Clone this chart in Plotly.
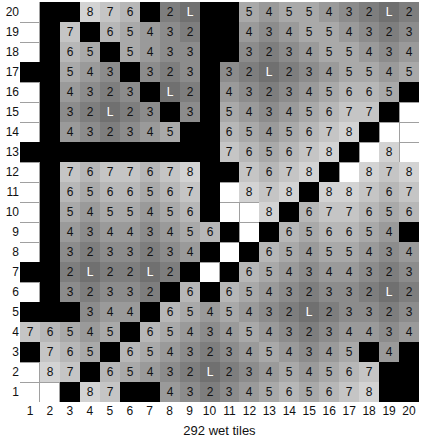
import numpy as np
import plotly.graph_objects as go

# Column / row labels
cols = list(range(1, 21))
rows = list(range(1, 21))

# Cell codes, listed from the top row (20) down to row 1.
# B = wall (black), W = dry (white), L = lake, digit = distance value
grid_top_down = [
    "W B B 8 7 6 B 2 L B B 5 4 5 5 4 3 2 L 2",
    "W B 7 B 6 5 4 3 2 B B 4 3 4 5 5 4 3 2 3",
    "W B 6 5 B 5 4 3 3 B B 3 2 3 4 5 5 4 3 4",
    "B B 5 4 3 B 3 2 3 B 3 2 L 2 3 4 5 5 4 5",
    "W B 4 3 2 3 B L 2 B 4 3 2 3 4 5 6 6 5 B",
    "W B 3 2 L 2 3 B 3 B 5 4 3 4 5 6 7 7 B W",
    "W B 4 3 2 3 4 5 B B 6 5 4 5 6 7 8 B W W",
    "B B B B B B B B B B 7 6 5 6 7 8 B W 8 W",
    "W B 7 6 7 7 6 7 8 B B 7 6 7 8 B W 8 7 8",
    "W B 6 5 6 6 5 6 7 B W 8 7 8 B 8 8 7 6 7",
    "W B 5 4 5 5 4 5 6 B W W 8 B 6 7 7 6 5 6",
    "W B 4 3 4 4 3 4 5 6 B W B 6 5 6 6 5 4 B",
    "W B 3 2 3 3 2 3 4 B W B 6 5 4 5 5 4 3 4",
    "B B 2 L 2 2 L 2 B W B 6 5 4 3 4 4 3 2 3",
    "W B 3 2 3 3 2 B 6 B 6 5 4 3 2 3 3 2 L 2",
    "B B B 3 4 4 B 6 5 4 5 4 3 2 L 2 3 3 2 3",
    "7 6 5 4 5 B 6 5 4 3 4 5 4 3 2 3 4 4 3 4",
    "B 7 6 5 B 6 5 4 3 2 3 4 5 4 3 4 5 B 4 B",
    "W 8 7 B 6 5 4 3 2 L 2 3 4 5 4 5 6 7 B B",
    "W W B 8 7 B B 4 3 2 3 4 5 6 5 6 7 8 B B",
]
x_title = "292 wet tiles"

codes = [r.split() for r in grid_top_down][::-1]  # now index 0 = row 1

wall_z, wet_z, wet_txt, lake_z, lake_txt = [], [], [], [], []
for r in codes:
    wz, vz, vt, lz, lt = [], [], [], [], []
    for c in r:
        wz.append(1 if c == "B" else np.nan)
        if c.isdigit():
            vz.append(int(c)); vt.append(c)
        else:
            vz.append(np.nan); vt.append("")
        if c == "L":
            lz.append(1); lt.append("L")
        else:
            lz.append(np.nan); lt.append("")
    wall_z.append(wz); wet_z.append(vz); wet_txt.append(vt)
    lake_z.append(lz); lake_txt.append(lt)

FONT = "Liberation Sans, Arial, Helvetica, sans-serif"
gray_scale = [[0.0, "#707070"], [1.0, "#d3d3d3"]]

fig = go.Figure()
fig.add_trace(go.Heatmap(
    x=cols, y=rows, z=wall_z, colorscale=[[0, "#000000"], [1, "#000000"]],
    showscale=False, hoverinfo="skip", xgap=0, ygap=0))
fig.add_trace(go.Heatmap(
    x=cols, y=rows, z=wet_z, text=wet_txt, texttemplate="%{text}",
    textfont=dict(family=FONT, size=12, color="#111111"),
    colorscale=gray_scale, zmin=1, zmax=8,
    showscale=False, hoverinfo="skip", xgap=0, ygap=0))
fig.add_trace(go.Heatmap(
    x=cols, y=rows, z=lake_z, text=lake_txt, texttemplate="%{text}",
    textfont=dict(family=FONT, size=12, color="#ffffff"),
    colorscale=[[0, "#707070"], [1, "#707070"]],
    showscale=False, hoverinfo="skip", xgap=0, ygap=0))

axis_common = dict(
    showgrid=False, zeroline=False, showline=False, ticks="",
    tickfont=dict(family=FONT, size=12, color="#111111"),
    minor=dict(tickmode="linear", tick0=0.5, dtick=1, showgrid=True,
               gridcolor="#a0a0a0", gridwidth=1, ticks=""),
)
fig.update_xaxes(range=[0.5, 20.5], tickmode="array", tickvals=cols,
                 ticktext=[str(c) for c in cols],
                 title=dict(text=x_title, font=dict(family=FONT, size=13, color="#111111"),
                            standoff=8),
                 **axis_common)
fig.update_yaxes(range=[0.5, 20.5], tickmode="array", tickvals=rows,
                 ticktext=[str(r) for r in rows],
                 **axis_common)

fig.update_layout(
    width=426, height=442,
    margin=dict(l=20, r=7, t=2, b=40),
    plot_bgcolor="#ffffff", paper_bgcolor="#ffffff",
    font=dict(family=FONT, size=12, color="#111111"),
)

fig.write_html("out.html")
